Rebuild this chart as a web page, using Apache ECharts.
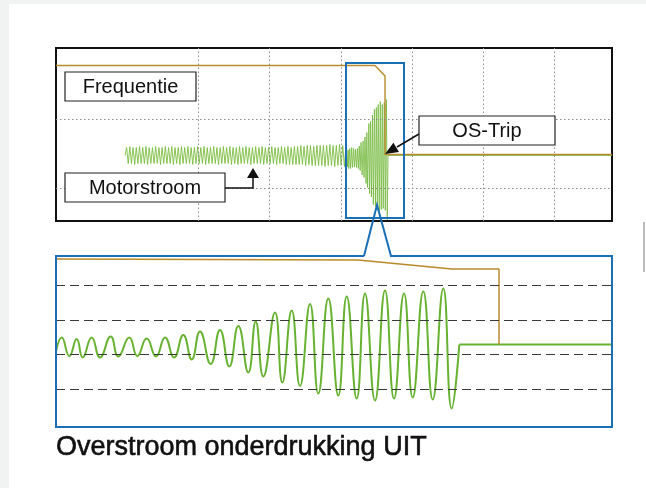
<!DOCTYPE html>
<html>
<head>
<meta charset="utf-8">
<script src="https://cdn.jsdelivr.net/npm/echarts@6/dist/echarts.min.js"></script>
<style>
  html, body { margin: 0; padding: 0; background: #fff; }
  #chart { width: 646px; height: 488px; }
</style>
</head>
<body>
<div id="chart"></div>
<script>
// time unit: the zoom window (blue box) runs 0..556, the overview -2780..2550
const overviewRange = [-2780, 2550]
const zoomRange = [0, 556]

// motor current inside the zoom window: peaks / troughs
const zoomT = [0, 5.7, 13.3, 20.7, 26.7, 35.7, 44, 54.7, 62.3, 73.3, 81.3, 90.7, 100, 109, 118,
  127.3, 135.7, 144, 154.7, 164, 173.3, 182.3, 192.3, 199.7, 207.3, 219, 226.3, 235.7, 244,
  254, 262.3, 272.3, 282.3, 290.7, 300.7, 309, 319, 329, 338, 348, 356.7, 367.3, 376.7,
  387.3, 395.7, 403.3]
const zoomCurrent = [-7, 7, -11.5, 5.5, -13, 7, -13, 8, -12, 7, -11.5, 6, -12, 7, -13,
  9.5, -15, 13, -19.5, 14.5, -22, 18.5, -28, 23, -32, 32, -38, 34, -41.5,
  40.5, -49, 46, -51, 48, -54, 51, -56, 54, -54, 51, -53, 53, -55,
  56, -64, 0]

// motor current before the zoom window (overview ripple, evenly spaced extremes)
const overviewRipple = [
  0, 8, -8, 9, -8, 8, -9, 8, -8, 9, -8, 8, -8, 9, -9, 8, -8, 8, -8, 9,
  -8, 8, -9, 8, -8, 9, -8, 8, -8, 9, -9, 8, -8, 8, -9, 9, -8, 8, -8, 9,
  -8, 8, -9, 8, -8, 9, -8, 8, -8, 9, -9, 8, -8, 8, -8, 9, -8, 8, -9, 8,
  -8, 9, -8, 8, -8, 9, -9, 8, -8, 8, -9, 9, -8, 8, -8, 9, -8, 8, -9, 8,
  -8, 9, -8, 8, -8, 9, -9, 8, -8, 8, -8, 9, -8, 8, -9, 8, -8, 9, -8, 8,
  -9, 9, -9, 8, -9, 9, -9, 9, -9, 10, -9, 9, -10, 10, -9, 10, -10, 9, -10, 10,
  -10, 10, -10, 10, -11, 10, -10, 11, -10, 10, -11, 10, -10, 11, -10, 10, -11, 10
]

// frequency (orange) in both views
const freqOverviewT = [-2780, 278, 374, 374, 2550]
const freqOverviewV = [90, 90, 79.5, 1, 1]
const freqZoomT = [0, 302, 396, 443, 443]
const freqZoomV = [85.5, 84.5, 75.5, 75.5, 0]

// grid lines
const overviewGridT = [-1419, -738, -48, 633, 1313, 1994]
const overviewGridV = [36.5, -32.5]
const zoomGridV = [59.5, 24.5, -10, -45]

const GREEN = '#68b232'
const ORANGE = '#b98a2c'
const BLUE = '#1b6fb6'
const FONT = '"Liberation Sans", Arial, Helvetica, sans-serif'

const pairs = (xs, ys) => xs.map((x, i) => [x, ys[i]])
const tripIdx = zoomT.length - 1

const chart = echarts.init(document.getElementById('chart'), null, { renderer: 'canvas' })

const hiddenValueAxis = (gridIndex, range) => ({
  type: 'value', gridIndex, min: range[0], max: range[1], show: false
})

const label = (x, y, w, h, text) => [
  {
    type: 'rect', z: 100,
    shape: { x, y, width: w, height: h },
    style: { fill: '#fff', stroke: '#222', lineWidth: 1.2 }
  },
  {
    type: 'text', z: 101,
    style: {
      text, x: x + w / 2, y: y + h / 2 + 0.5, fill: '#111', font: '20px ' + FONT,
      textAlign: 'center', textVerticalAlign: 'middle', align: 'center', verticalAlign: 'middle'
    }
  }
]

chart.setOption({
  animation: false,
  backgroundColor: '#fff',
  grid: [
    { left: 56, top: 48, width: 556, height: 173, show: true, borderColor: '#111', borderWidth: 2, backgroundColor: 'transparent' },
    { left: 56, top: 256, width: 556, height: 171, show: false },
    { left: 125, top: 48, width: 221, height: 173, show: false }
  ],
  xAxis: [
    hiddenValueAxis(0, overviewRange),
    hiddenValueAxis(1, zoomRange),
    { type: 'category', gridIndex: 2, boundaryGap: false, show: false, data: overviewRipple.map((_, i) => i) }
  ],
  yAxis: [
    hiddenValueAxis(0, [-65.5, 107.5]),
    hiddenValueAxis(1, [-82.5, 88.5]),
    hiddenValueAxis(2, [-65.5, 107.5])
  ],
  series: [
    {
      type: 'line', xAxisIndex: 0, yAxisIndex: 0, data: [], z: 1,
      markLine: {
        silent: true, symbol: 'none', label: { show: false },
        lineStyle: { color: '#8a8a8a', type: [1.5, 2.5], width: 1 },
        data: overviewGridT.map(v => ({ xAxis: v })).concat(overviewGridV.map(v => ({ yAxis: v })))
      }
    },
    {
      type: 'line', xAxisIndex: 2, yAxisIndex: 2, data: overviewRipple, symbol: 'none', z: 3,
      lineStyle: { color: '#7cbd3f', width: 0.9 }
    },
    {
      type: 'line', xAxisIndex: 0, yAxisIndex: 0, symbol: 'none', z: 3,
      data: pairs(zoomT, zoomCurrent).concat([[overviewRange[1], 0]]),
      lineStyle: { color: '#72b83a', width: 0.8 }
    },
    {
      type: 'line', xAxisIndex: 0, yAxisIndex: 0, symbol: 'none', z: 4,
      data: pairs(freqOverviewT, freqOverviewV),
      lineStyle: { color: ORANGE, width: 1.4 }
    },
    {
      type: 'line', xAxisIndex: 1, yAxisIndex: 1, data: [], z: 1,
      markLine: {
        silent: true, symbol: 'none', label: { show: false },
        lineStyle: { color: '#3a3a3a', type: [9, 5], width: 1.2 },
        data: zoomGridV.map(v => ({ yAxis: v }))
      }
    },
    {
      type: 'line', xAxisIndex: 1, yAxisIndex: 1, symbol: 'none', z: 3, smooth: 0.5,
      data: pairs(zoomT, zoomCurrent),
      lineStyle: { color: GREEN, width: 2 }
    },
    {
      type: 'line', xAxisIndex: 1, yAxisIndex: 1, symbol: 'none', z: 3,
      data: [[zoomT[tripIdx], zoomCurrent[tripIdx]], [zoomRange[1], 0]],
      lineStyle: { color: GREEN, width: 2 }
    },
    {
      type: 'line', xAxisIndex: 1, yAxisIndex: 1, symbol: 'none', z: 4,
      data: pairs(freqZoomT, freqZoomV),
      lineStyle: { color: ORANGE, width: 1.5 }
    }
  ],
  graphic: {
    elements: [
      { type: 'rect', z: 0, silent: true, shape: { x: 0, y: 0, width: 9, height: 488 }, style: { fill: '#f1f2f2' } },
      { type: 'rect', z: 0, silent: true, shape: { x: 0, y: 0, width: 646, height: 4 }, style: { fill: '#f1f2f2' } },
      { type: 'rect', z: 0, silent: true, shape: { x: 643, y: 222, width: 2, height: 50 }, style: { fill: '#bdbdbd' } },
      // zoom box in the overview
      { type: 'rect', z: 100, shape: { x: 346, y: 63, width: 58, height: 155 }, style: { fill: 'none', stroke: BLUE, lineWidth: 2 } },
      // zoom panel border with callout notch
      {
        type: 'polyline', z: 100,
        shape: { points: [[364, 256], [56, 256], [56, 427], [612, 427], [612, 256], [391, 256], [377, 205], [364, 256]] },
        style: { fill: 'none', stroke: BLUE, lineWidth: 2 }
      },
      ...label(65, 72, 131, 29, 'Frequentie'),
      ...label(65, 173, 160, 29, 'Motorstroom'),
      ...label(419, 116, 136, 29, 'OS-Trip'),
      // Motorstroom arrow
      { type: 'polyline', z: 100, shape: { points: [[225, 188], [253, 188], [253, 177]] }, style: { fill: 'none', stroke: '#111', lineWidth: 1.5 } },
      { type: 'polygon', z: 100, shape: { points: [[253, 168], [247, 178], [259, 178]] }, style: { fill: '#111' } },
      // OS-Trip arrow
      { type: 'line', z: 100, shape: { x1: 419, y1: 134, x2: 397, y2: 147 }, style: { stroke: '#111', lineWidth: 1.5 } },
      { type: 'polygon', z: 100, shape: { points: [[385, 154], [399, 152.1], [393.4, 142.7]] }, style: { fill: '#111' } },
      {
        type: 'text', z: 100,
        style: {
          text: 'Overstroom onderdrukking UIT', x: 56, y: 448, fill: '#111', stroke: '#111', lineWidth: 0.6,
          font: '27px ' + FONT, textAlign: 'left', textVerticalAlign: 'middle', align: 'left', verticalAlign: 'middle'
        }
      }
    ]
  }
})
</script>
</body>
</html>
